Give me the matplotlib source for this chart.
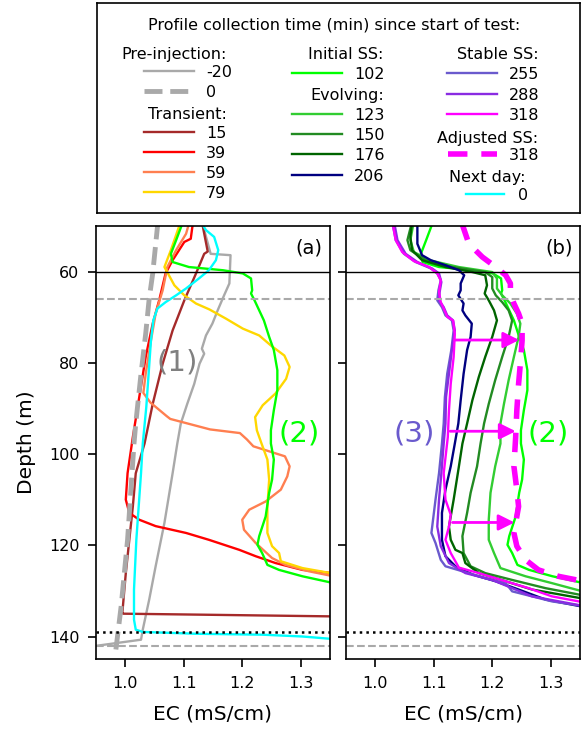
import matplotlib.pyplot as plt

# EC profiles: depth (m) and EC (mS/cm), named by minutes since start of test
d_m20 = [49.0, 56.1, 56.4, 62.6, 65.2, 68.5, 71.4, 74.0, 76.9, 78.0, 80.2, 84.6, 89.0, 93.3, 97.7,
         104.2, 115.1, 124.6, 131.9, 138.5, 140.7, 142.0]
ec_m20 = [1.131, 1.146, 1.180, 1.178, 1.169, 1.158, 1.149, 1.138, 1.131, 1.135, 1.127, 1.118, 1.106, 1.095, 1.089,
          1.081, 1.067, 1.052, 1.041, 1.030, 1.027, 0.953]

d_0 = [49.0, 60.4, 65.9, 73.6, 82.4, 93.3, 97.7, 118.8, 133.4, 142.9]
ec_0 = [1.056, 1.047, 1.041, 1.035, 1.027, 1.018, 1.015, 1.004, 0.993, 0.984]

d_15 = [49.0, 55.6, 56.1, 60.4, 66.3, 72.9, 80.2, 89.0, 97.7, 104.2, 111.5, 118.8, 126.1, 134.9, 135.0, 135.2, 135.6]
ec_15 = [1.131, 1.141, 1.135, 1.121, 1.101, 1.081, 1.064, 1.047, 1.033, 1.018, 1.013, 1.007, 1.001, 0.995, 0.997, 1.121, 1.36]

d_39 = [49.0, 52.8, 53.5, 57.5, 60.4, 66.3, 71.4, 78.7, 87.5, 96.3, 104.2, 110.0, 112.9, 114.4, 115.8, 117.3,
        118.8, 121.0, 122.4, 123.9, 125.4, 126.2]
ec_39 = [1.116, 1.112, 1.101, 1.081, 1.069, 1.058, 1.047, 1.035, 1.024, 1.013, 1.004, 1.001, 1.007, 1.024, 1.052, 1.104,
         1.143, 1.195, 1.223, 1.257, 1.303, 1.36]

d_59 = [49.0, 51.7, 55.3, 59.0, 64.1, 69.2, 75.1, 82.4, 86.6, 88.7, 91.7, 92.3, 94.6, 95.4, 96.8, 98.3, 100.5,
        102.7, 104.9, 107.8, 110.4, 112.2, 114.4, 116.6, 119.5, 122.8, 124.3, 125.7, 126.9]
ec_59 = [1.110, 1.104, 1.087, 1.072, 1.064, 1.052, 1.044, 1.035, 1.031, 1.043, 1.071, 1.077, 1.145, 1.196, 1.208, 1.219, 1.273,
         1.281, 1.277, 1.266, 1.240, 1.212, 1.200, 1.203, 1.223, 1.251, 1.274, 1.314, 1.36]

d_79 = [49.0, 55.3, 59.0, 60.4, 63.0, 65.2, 67.0, 68.3, 70.3, 72.5, 74.0, 76.2, 78.4, 80.9, 83.5, 86.7, 89.3,
        91.9, 94.8, 97.7, 101.2, 105.6, 111.5, 117.3, 120.2, 121.7, 123.5, 125.0, 126.3]
ec_79 = [1.095, 1.078, 1.067, 1.073, 1.084, 1.101, 1.121, 1.144, 1.172, 1.201, 1.229, 1.249, 1.272, 1.281, 1.275, 1.257, 1.235,
         1.222, 1.225, 1.233, 1.243, 1.246, 1.243, 1.243, 1.251, 1.263, 1.266, 1.303, 1.36]

d_102 = [49.0, 53.1, 56.1, 57.9, 59.0, 59.7, 60.4, 61.5, 64.1, 64.8, 66.3, 68.5, 70.7, 74.3, 77.2, 81.6, 86.0,
         90.4, 94.8, 97.7, 101.2, 105.6, 108.5, 113.7, 118.0, 119.9, 121.7, 124.3, 125.4, 126.8, 128.4]
ec_102 = [1.099, 1.087, 1.078, 1.081, 1.109, 1.167, 1.201, 1.215, 1.217, 1.215, 1.221, 1.229, 1.237, 1.246, 1.254, 1.260, 1.260,
          1.254, 1.249, 1.249, 1.254, 1.251, 1.246, 1.240, 1.229, 1.226, 1.234, 1.243, 1.263, 1.303, 1.36]

d_123 = [49.0, 53.1, 55.7, 57.5, 59.0, 60.1, 61.5, 63.7, 65.2, 67.0, 69.2, 71.4, 74.3, 78.7, 83.8, 89.0, 93.3,
         97.7, 102.7, 108.5, 114.4, 118.8, 121.7, 125.0, 126.8, 128.3, 130.3]
ec_123 = [1.066, 1.060, 1.066, 1.092, 1.143, 1.200, 1.208, 1.208, 1.217, 1.231, 1.242, 1.248, 1.245, 1.237, 1.228, 1.220, 1.214,
          1.214, 1.205, 1.197, 1.194, 1.194, 1.203, 1.214, 1.257, 1.302, 1.36]

d_150 = [49.0, 53.1, 55.3, 57.5, 59.0, 60.1, 61.2, 63.7, 65.2, 66.7, 68.5, 70.7, 74.3, 78.7, 83.8, 89.0, 93.3,
         97.7, 102.7, 108.5, 112.9, 118.0, 121.7, 124.6, 126.1, 127.6, 129.4, 131.1]
ec_150 = [1.063, 1.055, 1.060, 1.086, 1.132, 1.188, 1.200, 1.200, 1.206, 1.217, 1.228, 1.234, 1.228, 1.217, 1.205, 1.194, 1.186,
          1.180, 1.174, 1.163, 1.157, 1.149, 1.151, 1.163, 1.188, 1.234, 1.291, 1.36]

d_176 = [49.0, 52.4, 55.3, 57.5, 59.0, 60.1, 60.8, 63.0, 64.8, 66.3, 68.5, 70.7, 74.3, 78.7, 83.1, 88.2, 93.3,
         97.7, 102.7, 110.0, 115.9, 118.8, 121.0, 121.7, 123.9, 126.1, 127.9, 129.7, 131.8]
ec_176 = [1.063, 1.060, 1.063, 1.080, 1.120, 1.166, 1.188, 1.191, 1.187, 1.194, 1.203, 1.208, 1.200, 1.188, 1.177, 1.166, 1.157,
          1.149, 1.143, 1.134, 1.126, 1.129, 1.137, 1.149, 1.154, 1.177, 1.223, 1.268, 1.36]

d_206 = [49.0, 53.9, 56.4, 57.5, 58.6, 59.7, 60.8, 62.6, 64.1, 65.2, 67.0, 68.5, 69.6, 71.4, 74.3, 77.2, 82.4,
         88.2, 93.3, 97.7, 102.7, 107.8, 112.9, 118.8, 122.4, 124.6, 126.4, 127.9, 129.7, 131.9, 133.6]
ec_206 = [1.072, 1.072, 1.080, 1.095, 1.120, 1.143, 1.152, 1.146, 1.146, 1.142, 1.151, 1.149, 1.154, 1.165, 1.163, 1.157, 1.151,
          1.146, 1.142, 1.136, 1.129, 1.120, 1.114, 1.114, 1.120, 1.137, 1.166, 1.206, 1.245, 1.291, 1.36]

d_255 = [49.0, 53.1, 56.1, 57.9, 59.3, 60.4, 61.9, 64.1, 66.3, 67.8, 69.6, 70.7, 72.9, 77.2, 82.4, 87.5, 93.3,
         97.7, 104.2, 110.0, 117.3, 119.5, 123.2, 124.6, 125.7, 127.2, 128.3, 130.1, 131.2, 132.3, 133.4]
ec_255 = [1.029, 1.035, 1.049, 1.069, 1.095, 1.106, 1.112, 1.108, 1.106, 1.114, 1.120, 1.131, 1.134, 1.130, 1.123, 1.119, 1.117,
          1.114, 1.109, 1.103, 1.096, 1.103, 1.112, 1.120, 1.149, 1.188, 1.223, 1.234, 1.268, 1.302, 1.36]

d_288 = [49.0, 53.1, 56.1, 57.9, 59.3, 60.4, 62.3, 64.5, 66.3, 67.8, 69.6, 70.7, 72.9, 77.2, 82.4, 87.5, 93.3,
         97.7, 104.2, 110.0, 115.9, 120.2, 123.9, 126.1, 127.6, 129.4, 131.2, 133.4]
ec_288 = [1.032, 1.038, 1.052, 1.072, 1.097, 1.109, 1.113, 1.110, 1.109, 1.117, 1.123, 1.133, 1.136, 1.131, 1.126, 1.121, 1.120,
          1.117, 1.113, 1.109, 1.106, 1.112, 1.126, 1.154, 1.200, 1.234, 1.268, 1.36]

d_318 = [49.0, 53.1, 55.7, 57.7, 59.0, 60.4, 61.9, 64.5, 66.7, 68.1, 69.9, 70.7, 73.6, 78.7, 84.6, 90.4, 96.3,
         104.2, 110.0, 113.3, 115.9, 118.8, 121.7, 124.9, 126.1, 127.9, 129.4, 131.2, 132.6]
ec_318 = [1.029, 1.035, 1.046, 1.066, 1.092, 1.106, 1.112, 1.109, 1.112, 1.117, 1.123, 1.133, 1.136, 1.134, 1.129, 1.126, 1.124,
          1.117, 1.120, 1.129, 1.126, 1.120, 1.129, 1.143, 1.177, 1.223, 1.262, 1.302, 1.36]

# adjusted steady state profile at 318 min
d_318adj = [49.0, 53.9, 56.8, 59.0, 60.8, 62.6, 64.8, 67.0, 69.2, 71.4, 75.1, 80.2, 84.6, 90.4, 96.3, 102.7,
            107.8, 111.5, 115.1, 117.3, 120.2, 123.2, 125.4, 126.8, 128.0]
ec_318adj = [1.147, 1.160, 1.183, 1.206, 1.223, 1.231, 1.231, 1.237, 1.245, 1.251, 1.251, 1.248, 1.245, 1.242, 1.240, 1.237,
             1.242, 1.245, 1.240, 1.237, 1.242, 1.257, 1.279, 1.313, 1.36]

# next day profile
d_nd = [49.5, 50.9, 52.4, 55.3, 57.5, 59.7, 61.5, 63.7, 65.2, 66.7, 68.1, 70.7, 75.1, 82.4, 89.7, 97.7, 104.2,
        111.5, 118.8, 129.7, 136.3, 138.5, 139.0, 139.4, 139.6, 140.0, 140.6]
ec_nd = [1.131, 1.138, 1.152, 1.159, 1.155, 1.143, 1.126, 1.104, 1.087, 1.069, 1.055, 1.048, 1.044, 1.040, 1.036, 1.030, 1.027,
         1.023, 1.019, 1.015, 1.015, 1.018, 1.030, 1.121, 1.234, 1.303, 1.36]

# reference depths (m)
depth_top = 60
depth_dashed = [66, 142]
depth_dotted = 139

# shift arrows from stable SS to adjusted SS
arrow_depth = [75, 95, 115]
arrow_from = [1.136, 1.128, 1.132]
arrow_to = [1.246, 1.240, 1.238]

xticks = [1.0, 1.1, 1.2, 1.3]
yticks = [60, 80, 100, 120, 140]

lw = 1.7
sty = {
    '-20': dict(color='darkgray', lw=lw),
    '0': dict(color='darkgray', lw=3.5, ls='--'),
    '15': dict(color='brown', lw=lw),
    '39': dict(color='red', lw=lw),
    '59': dict(color='coral', lw=lw),
    '79': dict(color='gold', lw=lw),
    '102': dict(color='lime', lw=lw),
    '123': dict(color='limegreen', lw=lw),
    '150': dict(color='forestgreen', lw=lw),
    '176': dict(color='darkgreen', lw=lw),
    '206': dict(color='navy', lw=lw),
    '255': dict(color='slateblue', lw=lw),
    '288': dict(color='blueviolet', lw=lw),
    '318': dict(color='magenta', lw=lw),
    '318adj': dict(color='magenta', lw=4, ls=(0, (3.5, 2.5))),
    'nd': dict(color='cyan', lw=lw),
}

fig = plt.figure(figsize=(5.82, 7.29), dpi=100)
ax_a = fig.add_axes([0.1649, 0.0956, 0.4021, 0.5944])
ax_b = fig.add_axes([0.5945, 0.0956, 0.4021, 0.5944])

# (a) pre-injection, transient, initial SS and next day
ax_a.plot(ec_m20, d_m20, **sty['-20'])
ax_a.plot(ec_15, d_15, **sty['15'])
ax_a.plot(ec_39, d_39, **sty['39'])
ax_a.plot(ec_59, d_59, **sty['59'])
ax_a.plot(ec_79, d_79, **sty['79'])
ax_a.plot(ec_102, d_102, **sty['102'])
ax_a.plot(ec_nd, d_nd, **sty['nd'])
ax_a.plot(ec_0, d_0, **sty['0'])

# (b) evolving, stable and adjusted SS
ax_b.plot(ec_102, d_102, **sty['102'])
ax_b.plot(ec_123, d_123, **sty['123'])
ax_b.plot(ec_150, d_150, **sty['150'])
ax_b.plot(ec_176, d_176, **sty['176'])
ax_b.plot(ec_206, d_206, **sty['206'])
ax_b.plot(ec_255, d_255, **sty['255'])
ax_b.plot(ec_288, d_288, **sty['288'])
ax_b.plot(ec_318, d_318, **sty['318'])
ax_b.plot(ec_318adj, d_318adj, **sty['318adj'])

for d, x0, x1 in zip(arrow_depth, arrow_from, arrow_to):
    ax_b.annotate('', xy=(x1, d), xytext=(x0, d), zorder=5,
                  arrowprops=dict(arrowstyle='-|>,head_width=0.4,head_length=0.8', color='magenta',
                                  lw=2, mutation_scale=12, shrinkA=0, shrinkB=0))

for ax, tag in [(ax_a, '(a)'), (ax_b, '(b)')]:
    ax.axhline(depth_top, color='black', lw=1)
    for d in depth_dashed:
        ax.axhline(d, color='darkgray', lw=1.5, ls='--')
    ax.axhline(depth_dotted, color='black', lw=1.8, ls=':')
    ax.set_xlim(0.95, 1.35)
    ax.set_ylim(145, 50)
    ax.set_xticks(xticks)
    ax.set_yticks(yticks)
    ax.tick_params(direction='out', length=6, width=1.2, labelsize=11.5, pad=6)
    for s in ax.spines.values():
        s.set_linewidth(1.2)
    ax.set_xlabel('EC (mS/cm)', fontsize=14.5, labelpad=10)
    ax.text(0.968, 0.95, tag, transform=ax.transAxes, ha='right', va='center', fontsize=14)

ax_b.tick_params(labelleft=False)
ax_a.set_ylabel('Depth (m)', fontsize=14.5, labelpad=9)

ax_a.text(1.089, 80.0, '(1)', color='gray', fontsize=21, ha='center', va='center')
ax_a.text(1.297, 95.5, '(2)', color='lime', fontsize=21, ha='center', va='center')
ax_b.text(1.066, 95.4, '(3)', color='slateblue', fontsize=21, ha='center', va='center')
ax_b.text(1.296, 95.4, '(2)', color='lime', fontsize=21, ha='center', va='center')

# legend panel, laid out in figure pixels
lax = fig.add_axes([97.3 / 582, 1 - 212.7 / 729, (580 - 97.3) / 582, (212.7 - 3.3) / 729])
lax.set_xlim(97.3, 580)
lax.set_ylim(212.7, 3.3)
lax.set_xticks([])
lax.set_yticks([])
for s in lax.spines.values():
    s.set_linewidth(1.2)

fs = 11.5
lax.text(334.5, 23.5, 'Profile collection time (min) since start of test:', fontsize=fs,
         ha='center', va='center_baseline')

headers = [('Pre-injection:', 226.5, 52.7), ('Transient:', 226.5, 112.7),
           ('Initial SS:', 383, 52.7), ('Evolving:', 384, 94.3),
           ('Stable SS:', 539, 52.7), ('Adjusted SS:', 538.5, 136.7), ('Next day:', 526, 175.7)]
for txt, x, y in headers:
    lax.text(x, y, txt, fontsize=fs, ha='right', va='center_baseline')

entries = [('-20', '-20', 144, 194, 206, 71.3), ('0', '0', 144, 194, 206, 90.7),
           ('15', '15', 144, 194, 206, 131.7), ('39', '39', 144, 194, 206, 151.7),
           ('59', '59', 144, 194, 206, 172.0), ('79', '79', 144, 194, 206, 192.0),
           ('102', '102', 291.7, 341.7, 354.3, 72.7), ('123', '123', 291.7, 341.7, 354.3, 114.0),
           ('150', '150', 291.7, 341.7, 354.3, 134.3), ('176', '176', 291.7, 341.7, 354.3, 154.3),
           ('206', '206', 291.7, 341.7, 354.3, 175.0),
           ('255', '255', 447, 497, 509.3, 72.7), ('288', '288', 447, 497, 509.3, 94.3),
           ('318', '318', 447, 497, 509.3, 114.0), ('318adj', '318', 448, 497, 509.3, 154.3),
           ('nd', '0', 466, 504, 517.7, 194.0)]
for key, lab, x0, x1, xt, y in entries:
    lax.plot([x0, x1], [y, y], **sty[key])
    lax.text(xt, y, lab, fontsize=fs, ha='left', va='center_baseline')

fig.savefig('out.png', dpi=100)
